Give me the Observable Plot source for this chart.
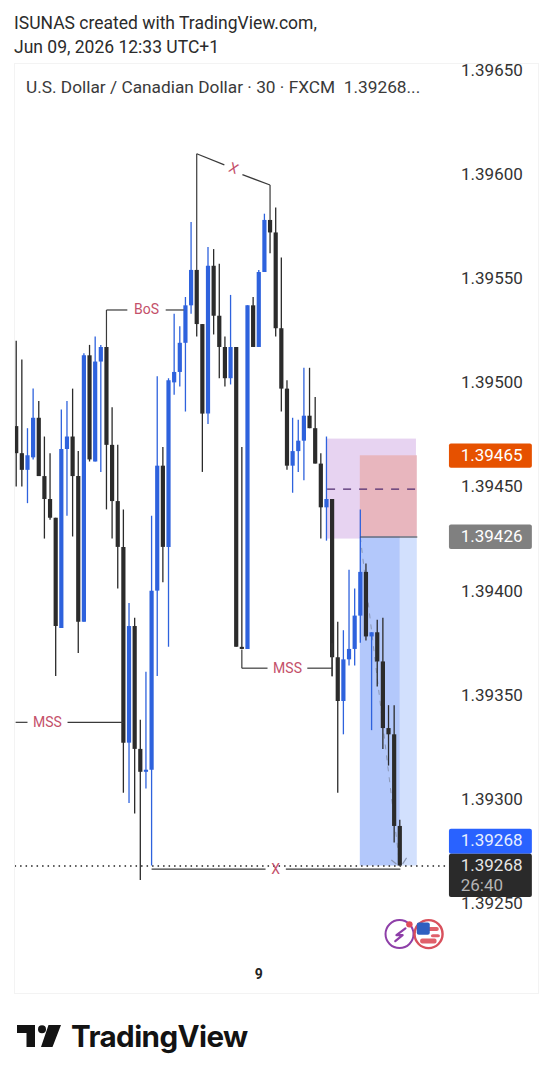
<!doctype html>
<html>
<head>
<meta charset="utf-8">
<script src="https://cdn.jsdelivr.net/npm/d3@7"></script>
<script src="https://cdn.jsdelivr.net/npm/@observablehq/plot@0.6"></script>
<style>
html,body{margin:0;padding:0;background:#fff;width:552px;height:1080px;overflow:hidden;font-family:Roboto,sans-serif;color:#2b2b2b}
#head{height:62px;position:relative}
#head div{position:absolute;left:14px;font-size:17.5px;white-space:nowrap;line-height:20px}
#chart{position:relative;height:938px}
#panel{position:absolute;left:14px;top:1px;width:523px;height:929px;border:1px solid #f3f3f3;pointer-events:none}
#legend{position:absolute;left:26px;top:15px;font-size:17.3px;color:#3a3a3a;white-space:pre;line-height:20px}
#foot{position:relative;height:80px}
#foot svg{position:absolute;left:17px;top:25px}
#foot span{position:absolute;left:71px;top:17px;font-family:Inter,sans-serif;font-weight:700;font-size:29.6px;letter-spacing:-.6px;color:#131313;line-height:38px}
</style>
</head>
<body>
<div id="head">
  <div style="top:13px">ISUNAS created with TradingView.com,</div>
  <div style="top:37px">Jun 09, 2026 12:33 UTC+1</div>
</div>
<div id="chart">
  <div id="panel"></div>
  <div id="legend">U.S. Dollar / Canadian Dollar · 30 · FXCM  1.39268...</div>
</div>
<div id="foot">
  <svg width="44" height="23" viewBox="0 0 44 23"><path d="M0 0H18V22H9.5V8H0Z M31.5 0H44L35.5 22H24Z" fill="#131313"/><circle cx="25" cy="4.2" r="4" fill="#131313"/></svg>
  <span>TradingView</span>
</div>
<script>
const opens = [
1.39479,1.39466,1.39458,1.39464,1.39483,1.39455,1.39444,1.39435,1.39382,1.39468,
1.39474,1.39455,1.39385,1.39513,1.39462,1.39510,1.39517,1.39470,1.39443,1.39421,
1.39327,1.39383,1.39324,1.39313,1.39314,1.39400,1.39460,1.39421,1.39500,1.39505,
1.39519,1.39537,1.39554,1.39528,1.39485,1.39556,1.39532,1.39517,1.39502,1.39517,
1.39373,1.39372,1.39537,1.39517,1.39553,1.39578,1.39572,1.39526,1.39497,1.39460,
1.39467,1.39472,1.39484,1.39478,1.39461,1.39440,1.39444,1.39368,1.39347,1.39367,
1.39372,1.39388,1.39409,1.39378,1.39380,1.39366,1.39334,1.39331,1.39287];
const closes = [
1.39466,1.39458,1.39465,1.39483,1.39455,1.39444,1.39435,1.39383,1.39468,1.39474,
1.39455,1.39385,1.39513,1.39463,1.39510,1.39517,1.39470,1.39443,1.39421,1.39327,
1.39383,1.39324,1.39313,1.39314,1.39400,1.39460,1.39421,1.39501,1.39505,1.39519,
1.39537,1.39554,1.39528,1.39485,1.39556,1.39532,1.39517,1.39502,1.39517,1.39373,
1.39372,1.39537,1.39517,1.39553,1.39578,1.39572,1.39526,1.39497,1.39460,1.39467,
1.39472,1.39484,1.39478,1.39461,1.39440,1.39444,1.39368,1.39347,1.39367,1.39372,
1.39388,1.39409,1.39378,1.39380,1.39366,1.39334,1.39331,1.39287,1.39268];
const highs = [
1.39520,1.39511,1.39478,1.39497,1.39491,1.39474,1.39466,1.39435,1.39487,1.39491,
1.39497,1.39467,1.39514,1.39518,1.39522,1.39518,1.39517,1.39488,1.39470,1.39439,
1.39394,1.39387,1.39338,1.39361,1.39436,1.39503,1.39469,1.39502,1.39533,1.39527,
1.39541,1.39577,1.39554,1.39528,1.39565,1.39564,1.39557,1.39522,1.39542,1.39517,
1.39469,1.39537,1.39541,1.39554,1.39581,1.39578,1.39584,1.39560,1.39501,1.39483,
1.39482,1.39507,1.39507,1.39493,1.39466,1.39474,1.39444,1.39385,1.39381,1.39410,
1.39401,1.39439,1.39413,1.39380,1.39386,1.39387,1.39345,1.39345,1.39290];
const lows = [
1.39450,1.39450,1.39442,1.39463,1.39455,1.39425,1.39434,1.39359,1.39382,1.39436,
1.39426,1.39370,1.39385,1.39462,1.39462,1.39457,1.39439,1.39425,1.39401,1.39303,
1.39298,1.39293,1.39261,1.39305,1.39268,1.39359,1.39404,1.39373,1.39494,1.39498,
1.39486,1.39533,1.39522,1.39457,1.39480,1.39523,1.39502,1.39498,1.39499,1.39373,
1.39372,1.39372,1.39517,1.39517,1.39553,1.39562,1.39522,1.39486,1.39458,1.39447,
1.39457,1.39453,1.39478,1.39461,1.39425,1.39424,1.39359,1.39303,1.39331,1.39364,
1.39364,1.39375,1.39376,1.39333,1.39354,1.39324,1.39316,1.39279,1.39268];

const priceTicks = [1.3965,1.396,1.3955,1.395,1.3945,1.394,1.3935,1.393,1.3925];
const lastPrice = 1.39268, entryPrice = 1.39426, midPrice = 1.39449;

const zones = [
  {x1:55,   x2:70.95, y1:1.39473, y2:1.39425, fill:"#e7d3f1"},
  {x1:61,   x2:71.1,  y1:1.39465, y2:1.39426, fill:"#e8b6be"},
  {x1:61,   x2:68.1,  y1:1.39426, y2:1.39268, fill:"#b3c8fb"},
  {x1:68.1, x2:71.1,  y1:1.39426, y2:1.39268, fill:"#d2e0fd"}
];
const annotationLines = [
  [16,1.39517,16,1.39535],[16,1.39535,19.7,1.39535],[26.5,1.39535,29.7,1.39535],
  [-0.1,1.39337,2,1.39337],[9.1,1.39337,19,1.39337],
  [40,1.39372,40,1.39363],[40,1.39363,44.55,1.39363],[51.6,1.39363,56,1.39363],[56,1.39375,56,1.39359],
  [32,1.39554,32,1.39610],[32,1.39610,36.9,1.396047],[40.1,1.39600,45,1.39595],[45,1.39595,45,1.39578],
  [24,1.392665,44.2,1.392665],[47.8,1.392665,68.1,1.392665],
  [61,1.39426,71.1,1.39426]
].map(([x1,y1,x2,y2]) => ({x1,y1,x2,y2}));
const annotationLabels = [
  {x:23.1, y:1.39535, text:"BoS", rotate:0},
  {x:5.55, y:1.39337, text:"MSS", rotate:0},
  {x:48.1, y:1.39363, text:"MSS", rotate:0},
  {x:38.5, y:1.39603, text:"X", rotate:22},
  {x:46,   y:1.392665, text:"X", rotate:0}
];
const arrowTips = [
  {x1:66.5,y1:1.392709,x2:67.4,y2:1.39269},
  {x1:69.2,y1:1.392719,x2:68.5,y2:1.39269}
];
const priceBoxes = [
  {y1:1.394707, y2:1.39459,  fill:"#e65100"},
  {y1:1.394317, y2:1.39420,  fill:"#808080"},
  {y1:1.392857, y2:1.392737, fill:"#2962ff"},
  {y1:1.392737, y2:1.392529, fill:"#2a2a2a"}
];
const priceBoxTexts = [
  {y:1.39465,  text:"1.39465", fill:"#fff"},
  {y:1.39426,  text:"1.39426", fill:"#fff"},
  {y:1.39280,  text:"1.39268", fill:"#e8efff"},
  {y:1.39268,  text:"1.39268", fill:"#e6e6e6"},
  {y:1.392585, text:"26:40",   fill:"#b5b5b5"}
];
const boltPath = [
  {x:69,y:1.39238},{x:67.4,y:1.392348},{x:68.5,y:1.392348},{x:67.2,y:1.392319}
];
const flagBits = [
  {x1:72.2,x2:75,  y1:1.392385,y2:1.392365,fill:"#e0606a"},
  {x1:73.6,x2:75.2,y1:1.392350,y2:1.392335,fill:"#e0606a"},
  {x1:71.7,x2:74.6,y1:1.392329,y2:1.392305,fill:"#e0606a"},
  {x1:71.1,x2:73.4,y1:1.392406,y2:1.392348,fill:"#2f5fc0"}
];

const candles = opens.map((o,i) => ({i, o, c:closes[i], h:highs[i], l:lows[i]}));
const candleColor = d => d.c > d.o ? "#2e62dd" : "#2b2b2b";
const boxX1 = 76.8, boxX2 = 91.5, boxText = 78.8;

const plot = Plot.plot({
  width:552, height:938,
  marginTop:0, marginBottom:0, marginLeft:0, marginRight:91,
  style:{background:"transparent", fontFamily:"Roboto, sans-serif", overflow:"visible"},
  x:{domain:[0,68], range:[15.7,399.3], axis:null},
  y:{domain:[1.3965,1.3925], range:[8,841], axis:null},
  marks:[
    Plot.axisY(priceTicks,{anchor:"right", tickSize:0, tickPadding:-0.5, label:null, tickFormat:d3.format(".5f"), fontSize:17, color:"#333"}),
    Plot.rect(zones,{x1:"x1",x2:"x2",y1:"y1",y2:"y2",fill:"fill"}),
    Plot.ruleY([lastPrice],{x1:-0.2,x2:76.2,stroke:"#222",strokeWidth:1.5,strokeDasharray:"1.5 4"}),
    Plot.ruleY([midPrice],{x1:55.2,x2:71,stroke:"#4f2a6e",strokeWidth:1.1,strokeDasharray:"8 8"}),
    Plot.link([{x1:61,y1:entryPrice,x2:68,y2:lastPrice}],{x1:"x1",y1:"y1",x2:"x2",y2:"y2",stroke:"#8a97b5",strokeWidth:1,strokeDasharray:"5 6"}),
    Plot.link(arrowTips,{x1:"x1",y1:"y1",x2:"x2",y2:"y2",stroke:"#8a97b5",strokeWidth:1.2}),
    Plot.ruleX(candles,{x:"i",y1:"h",y2:"l",stroke:candleColor,strokeWidth:1.3}),
    Plot.ruleX(candles,{x:"i",y1:"o",y2:"c",stroke:candleColor,strokeWidth:4.2}),
    Plot.link(annotationLines,{x1:"x1",y1:"y1",x2:"x2",y2:"y2",stroke:"#3a3a3a",strokeWidth:1.2}),
    Plot.text(annotationLabels,{x:"x",y:"y",text:"text",rotate:"rotate",fill:"#c4506a",fontSize:14}),
    Plot.rect(priceBoxes,{x1:boxX1,x2:boxX2,y1:"y1",y2:"y2",fill:"fill",rx:2}),
    Plot.text(priceBoxTexts,{x:boxText,y:"y",text:"text",fill:"fill",fontSize:17,textAnchor:"start"}),
    Plot.dot([{x:67.95,y:1.392353}],{x:"x",y:"y",r:14,fill:"#fff",stroke:"#8e3fa8",strokeWidth:2}),
    Plot.line(boltPath,{x:"x",y:"y",stroke:"#8e3fa8",strokeWidth:2.2}),
    Plot.dot([{x:69.7,y:1.39240}],{x:"x",y:"y",r:3.2,fill:"#e04a5a"}),
    Plot.dot([{x:73.1,y:1.392353}],{x:"x",y:"y",r:14,fill:"#fff",stroke:"#d8505c",strokeWidth:2.4}),
    Plot.rect(flagBits,{x1:"x1",x2:"x2",y1:"y1",y2:"y2",fill:"fill",rx:2}),
    Plot.text([{x:43,y:1.39216}],{x:"x",y:"y",text:()=>"9",fontSize:14,fontWeight:700,fill:"#222"})
  ]
});
document.getElementById("chart").prepend(plot);
</script>
</body>
</html>
